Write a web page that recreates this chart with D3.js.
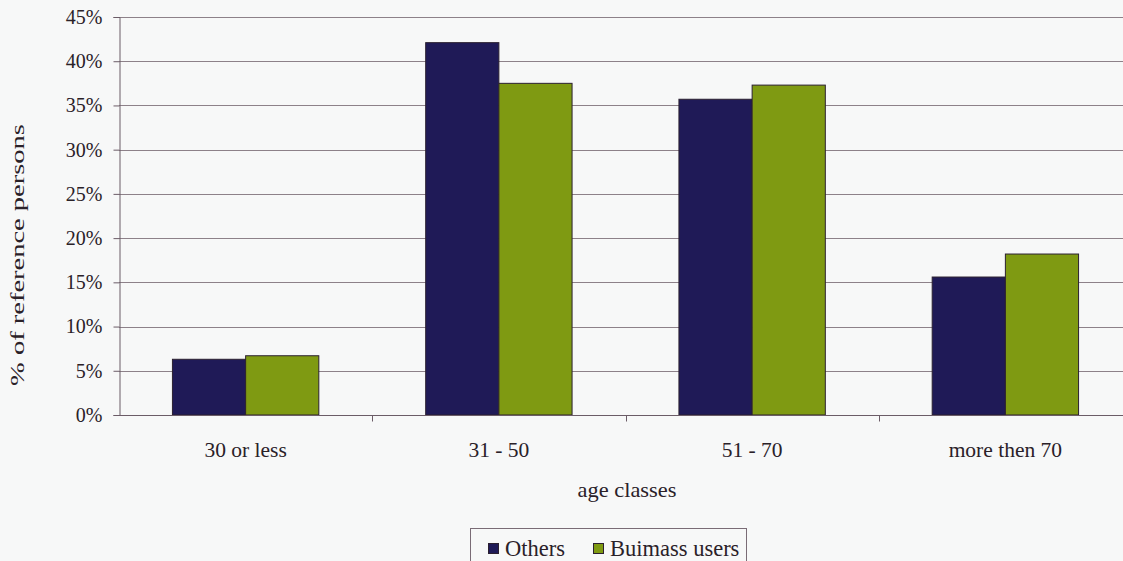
<!DOCTYPE html>
<html>
<head>
<meta charset="utf-8">
<script src="https://cdn.jsdelivr.net/npm/d3@7"></script>
<style>
  html, body { margin: 0; padding: 0; background: #f7f8f8; }
  svg { display: block; }
  text { font-family: "Liberation Serif", "Times New Roman", serif; fill: #2a2128; }
</style>
</head>
<body>
<svg id="chart" width="1123" height="561"></svg>
<script>
const categories = ["30 or less", "31 - 50", "51 - 70", "more then 70"];
const seriesNames = ["Others", "Buimass users"];
const othersValues = [0.063, 0.421, 0.357, 0.156];
const biomassValues = [0.067, 0.375, 0.373, 0.182];
const yTicks = [0, 0.05, 0.10, 0.15, 0.20, 0.25, 0.30, 0.35, 0.40, 0.45];
const colors = ["#1f1a57", "#7f9a12"];

(function () {
const svg = d3.select("#chart");
const W = 1123;
const plotLeft = 119, plotTop = 17, plotBottom = 415, plotRightEnd = 1132;

const values = [othersValues, biomassValues];
const rows = categories.map((c, i) => ({ cat: c, vals: seriesNames.map((s, j) => ({ s, j, v: values[j][i] })) }));

const x0 = d3.scaleBand().domain(categories).range([plotLeft, plotRightEnd]).padding(0);
const bw = x0.bandwidth();
const x1 = d3.scaleBand().domain(seriesNames).range([bw * 0.211, bw * 0.789]).padding(0);
const y = d3.scaleLinear().domain([0, 0.45]).range([plotBottom, plotTop]);

// gridlines
svg.append("g").selectAll("line").data(yTicks.filter(d => d > 0)).join("line")
  .attr("x1", plotLeft).attr("x2", W)
  .attr("y1", d => Math.round(y(d)) + 0.5).attr("y2", d => Math.round(y(d)) + 0.5)
  .attr("stroke", "#8d8189").attr("stroke-width", 1);

// bars
const g = svg.append("g").selectAll("g").data(rows).join("g")
  .attr("transform", d => `translate(${x0(d.cat)},0)`);
g.selectAll("rect").data(d => d.vals).join("rect")
  .attr("x", d => x1(d.s))
  .attr("y", d => y(d.v))
  .attr("width", x1.bandwidth())
  .attr("height", d => plotBottom - y(d.v))
  .attr("fill", d => colors[d.j])
  .attr("stroke", "#2b2030").attr("stroke-width", 1);

// y axis
const yAxis = d3.axisLeft(y).tickValues(yTicks).tickFormat(d3.format(".0%")).tickSize(6).tickPadding(11);
const ya = svg.append("g").attr("transform", `translate(${plotLeft + 0.5},0)`).call(yAxis);
ya.select(".domain").attr("stroke", "#6b5c67");
ya.selectAll(".tick line").attr("stroke", "#6b5c67");
ya.selectAll(".tick text").attr("font-size", 20).style("font-family", "Liberation Serif, serif").attr("fill", "#2a2128");

// x axis
const xa = svg.append("g").attr("transform", `translate(0,${plotBottom + 0.5})`);
xa.append("line").attr("x1", plotLeft).attr("x2", W).attr("stroke", "#6b5c67");
xa.selectAll("line.tk").data(categories.slice(1)).join("line").attr("class", "tk")
  .attr("x1", d => Math.round(x0(d)) + 0.5).attr("x2", d => Math.round(x0(d)) + 0.5)
  .attr("y1", 0).attr("y2", 6).attr("stroke", "#6b5c67");
xa.selectAll("text").data(categories).join("text")
  .attr("x", d => x0(d) + bw / 2).attr("y", 41)
  .attr("text-anchor", "middle").attr("font-size", 21.5).text(d => d);

// axis titles
svg.append("text").attr("x", 627).attr("y", 497).attr("text-anchor", "middle")
  .attr("font-size", 21).attr("textLength", 99).attr("lengthAdjust", "spacingAndGlyphs").text("age classes");
svg.append("text").attr("transform", "translate(24,255) rotate(-90) scale(1.5,1)").attr("text-anchor", "middle")
  .attr("font-size", 19).text("% of reference persons");

// legend
const lg = svg.append("g");
lg.append("rect").attr("x", 470.5).attr("y", 528.5).attr("width", 276).attr("height", 60)
  .attr("fill", "none").attr("stroke", "#7a6c76");
const items = lg.selectAll("g").data(seriesNames).join("g")
  .attr("transform", (d, i) => `translate(${i === 0 ? 488 : 593},0)`);
items.append("rect").attr("x", 0.5).attr("y", 543.5).attr("width", 10).attr("height", 10)
  .attr("fill", (d, i) => colors[i]).attr("stroke", "#2b2030");
items.append("text").attr("x", 17).attr("y", 556).attr("font-size", 22.5).text(d => d);
})();
</script>
</body>
</html>
